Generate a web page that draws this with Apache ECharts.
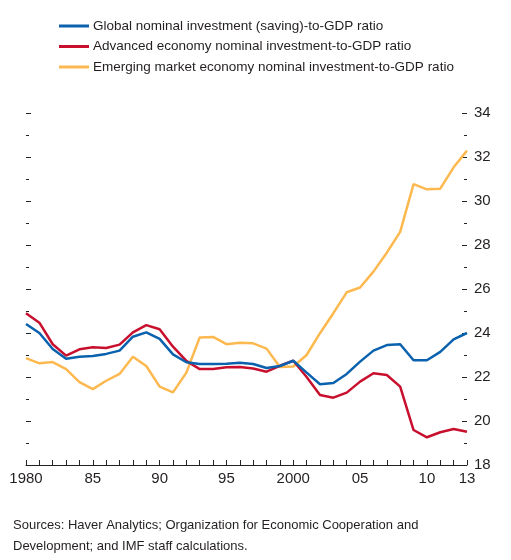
<!DOCTYPE html>
<html>
<head>
<meta charset="utf-8">
<script src="https://cdn.jsdelivr.net/npm/echarts@6/dist/echarts.min.js"></script>
<style>
  html, body { margin: 0; padding: 0; background: #fff; }
  #chart { width: 511px; height: 560px; }
</style>
</head>
<body>
<div id="chart"></div>
<script>
var years = [];
for (var y = 1980; y <= 2013; y++) years.push(String(y));

var globalRatio = [24.41, 24.0, 23.27, 22.83, 22.92, 22.95, 23.05, 23.2, 23.83, 24.03,
    23.73, 23.03, 22.67, 22.59, 22.59, 22.6, 22.65, 22.59, 22.41, 22.5,
    22.74, 22.2, 21.67, 21.73, 22.14, 22.7, 23.2, 23.45, 23.49, 22.76,
    22.76, 23.14, 23.71, 24.0];
var advancedRatio = [24.9, 24.47, 23.49, 22.97, 23.26, 23.35, 23.32, 23.47, 24.03, 24.36,
    24.17, 23.38, 22.73, 22.36, 22.36, 22.44, 22.45, 22.39, 22.24, 22.51,
    22.74, 22.0, 21.18, 21.06, 21.29, 21.79, 22.17, 22.09, 21.56, 19.59,
    19.26, 19.49, 19.64, 19.51];
var emergingRatio = [22.86, 22.62, 22.68, 22.36, 21.77, 21.45, 21.83, 22.14, 22.92, 22.5,
    21.56, 21.3, 22.2, 23.8, 23.82, 23.49, 23.56, 23.53, 23.29, 22.45,
    22.48, 23.0, 23.99, 24.9, 25.85, 26.07, 26.79, 27.65, 28.6, 30.77,
    30.53, 30.56, 31.53, 32.29];

var labeledYears = ['1980', '1985', '1990', '1995', '2000', '2005', '2010', '2013'];
var yearLabels = ['1980', '85', '90', '95', '2000', '05', '10', '13'];

var seriesNames = [
    'Global nominal investment (saving)-to-GDP ratio',
    'Advanced economy nominal investment-to-GDP ratio',
    'Emerging market economy nominal investment-to-GDP ratio'
];
var colors = ['#0a62ae', '#c8102e', '#fdb94f'];

var font = "'Liberation Sans Narrow', 'Arial Narrow', 'Liberation Sans', sans-serif";

var chart = echarts.init(document.getElementById('chart'));

function yAxisDef(pos, showLabel) {
    return {
        type: 'value',
        position: pos,
        min: 18,
        max: 34,
        interval: 2,
        splitLine: { show: false },
        axisLine: { show: false },
        axisTick: { show: true, inside: true, length: 5, lineStyle: { color: '#222', width: 1 } },
        minorTick: { show: true, splitNumber: 2, length: 3, lineStyle: { color: '#222', width: 1 } },
        minorSplitLine: { show: false },
        axisLabel: {
            show: showLabel,
            margin: 7,
            color: '#231f20',
            fontSize: 15,
            fontFamily: font
        }
    };
}

var option = {
    animation: false,
    backgroundColor: '#fff',
    color: colors,
    legend: {
        orient: 'vertical',
        left: 54,
        top: 11,
        icon: 'rect',
        itemWidth: 30,
        itemHeight: 3,
        itemGap: 0.5,
        data: seriesNames,
        textStyle: {
            color: '#231f20',
            fontSize: 13.5,
            fontFamily: font,
            lineHeight: 20,
            padding: [0, 0, 0, -1]
        }
    },
    grid: { left: 26, right: 44, top: 113, bottom: 95 },
    xAxis: {
        type: 'category',
        data: years,
        boundaryGap: false,
        axisLine: { show: true, lineStyle: { color: '#222', width: 1 } },
        axisTick: { show: true, inside: true, length: 5, interval: 0, lineStyle: { color: '#222', width: 1 } },
        splitLine: { show: false },
        axisLabel: {
            interval: function (i, v) { return labeledYears.indexOf(v) >= 0; },
            formatter: function (v) { return yearLabels[labeledYears.indexOf(v)]; },
            margin: 6,
            color: '#231f20',
            fontSize: 15,
            fontFamily: font
        }
    },
    yAxis: [yAxisDef('right', true), yAxisDef('left', false)],
    graphic: [{
        type: 'text',
        left: 13,
        top: 515,
        style: {
            text: 'Sources: Haver Analytics; Organization for Economic Cooperation and\nDevelopment; and IMF staff calculations.',
            fill: '#231f20',
            font: '13px ' + font,
            lineHeight: 21
        }
    }],
    series: [{
        name: seriesNames[2],
        type: 'line',
        data: emergingRatio,
        showSymbol: false,
        lineStyle: { width: 2.5, color: colors[2] },
        itemStyle: { color: colors[2] }
    }, {
        name: seriesNames[1],
        type: 'line',
        data: advancedRatio,
        showSymbol: false,
        lineStyle: { width: 2.5, color: colors[1] },
        itemStyle: { color: colors[1] }
    }, {
        name: seriesNames[0],
        type: 'line',
        data: globalRatio,
        showSymbol: false,
        lineStyle: { width: 2.5, color: colors[0] },
        itemStyle: { color: colors[0] }
    }]
};
chart.setOption(option);
window.addEventListener('resize', function () {
    chart.resize();
});
</script>
</body>
</html>
